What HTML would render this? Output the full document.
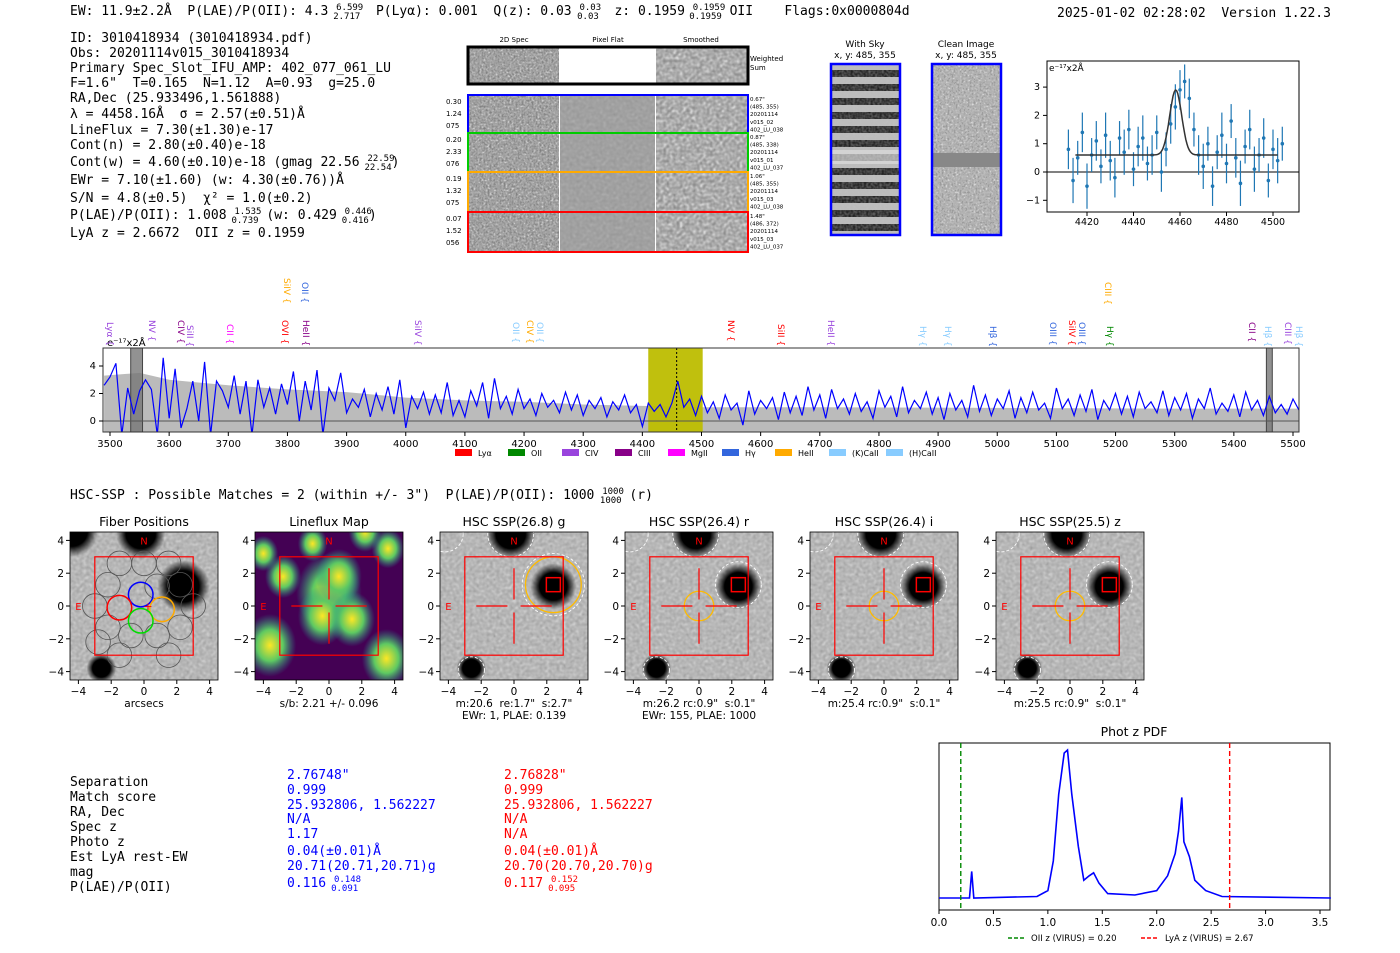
<!DOCTYPE html>
<html><head><meta charset="utf-8"><style>
body{margin:0;background:#fff}
svg{display:block}
text{white-space:pre}
.m{font-family:"DejaVu Sans Mono","Liberation Mono",monospace;font-size:13px}
.s{font-family:"DejaVu Sans","Liberation Sans",sans-serif}
</style></head><body>
<svg id="root" width="1400" height="953" viewBox="0 0 1400 953" xmlns="http://www.w3.org/2000/svg" xml:space="preserve">
<defs>
<filter id="noise" x="0" y="0" width="100%" height="100%"><feTurbulence type="fractalNoise" baseFrequency="0.45" numOctaves="1" seed="3"/><feColorMatrix type="matrix" values="0 0 0 0 0.55  0 0 0 0 0.55  0 0 0 0 0.55  1.4 0 0 0 -0.35"/></filter>
<filter id="noise2" x="0" y="0" width="100%" height="100%"><feTurbulence type="fractalNoise" baseFrequency="0.5" numOctaves="1" seed="7"/><feColorMatrix type="saturate" values="0"/><feComponentTransfer><feFuncR type="discrete" tableValues="0.05 0.35 0.6 0.85 1"/><feFuncG type="discrete" tableValues="0.05 0.35 0.6 0.85 1"/><feFuncB type="discrete" tableValues="0.05 0.35 0.6 0.85 1"/></feComponentTransfer></filter>
<filter id="noise3" x="0" y="0" width="100%" height="100%"><feTurbulence type="fractalNoise" baseFrequency="0.3" numOctaves="1" seed="11"/><feColorMatrix type="saturate" values="0"/><feComponentTransfer><feFuncR type="linear" slope="1.8" intercept="-0.2"/><feFuncG type="linear" slope="1.8" intercept="-0.2"/><feFuncB type="linear" slope="1.8" intercept="-0.2"/></feComponentTransfer></filter>
<radialGradient id="blob"><stop offset="0" stop-color="#000"/><stop offset="0.6" stop-color="#000"/><stop offset="1" stop-color="#000" stop-opacity="0"/></radialGradient>
<radialGradient id="yel"><stop offset="0" stop-color="#fde725"/><stop offset="0.5" stop-color="#5ec962"/><stop offset="1" stop-color="#21918c" stop-opacity="0"/></radialGradient>
<pattern id="stripes" width="10" height="14" patternUnits="userSpaceOnUse"><rect width="10" height="7" fill="#222"/><rect y="7" width="10" height="7" fill="#bbb"/></pattern>
</defs>

<g class="m" fill="#000">
<text x="70" y="15">EW: 11.9±2.2Å  P(LAE)/P(OII): 4.3 <tspan font-size="9" dy="-5">6.599</tspan><tspan font-size="9" dx="-30" dy="9">2.717</tspan><tspan dy="-4">  P(Lyα): 0.001  Q(z): 0.03 </tspan><tspan font-size="9" dy="-5">0.03</tspan><tspan font-size="9" dx="-24" dy="9">0.03</tspan><tspan dy="-4">  z: 0.1959 </tspan><tspan font-size="9" dy="-5">0.1959</tspan><tspan font-size="9" dx="-36" dy="9">0.1959</tspan><tspan dy="-4"> OII    Flags:0x0000804d</tspan></text>
<text x="1057" y="17">2025-01-02 02:28:02  Version 1.22.3</text>
</g>

<g class="m">
<text x="70" y="42">ID: 3010418934 (3010418934.pdf)</text>
<text x="70" y="57">Obs: 20201114v015_3010418934</text>
<text x="70" y="72">Primary Spec_Slot_IFU_AMP: 402_077_061_LU</text>
<text x="70" y="87">F=1.6"  T=0.165  N=1.12  A=0.93  g=25.0</text>
<text x="70" y="102">RA,Dec (25.933496,1.561888)</text>
<text x="70" y="118">λ = 4458.16Å  σ = 2.57(±0.51)Å</text>
<text x="70" y="134">LineFlux = 7.30(±1.30)e-17</text>
<text x="70" y="149">Cont(n) = 2.80(±0.40)e-18</text>
<text x="70" y="166">Cont(w) = 4.60(±0.10)e-18 (gmag 22.56 <tspan font-size="9" dy="-5">22.59</tspan><tspan font-size="9" dx="-30" dy="9">22.54</tspan><tspan dy="-4">)</tspan></text>
<text x="70" y="184">EWr = 7.10(±1.60) (w: 4.30(±0.76))Å</text>
<text x="70" y="202">S/N = 4.8(±0.5)  χ² = 1.0(±0.2)</text>
<text x="70" y="219">P(LAE)/P(OII): 1.008 <tspan font-size="9" dy="-5">1.535</tspan><tspan font-size="9" dx="-30" dy="9">0.739</tspan><tspan dy="-4"> (w: 0.429 </tspan><tspan font-size="9" dy="-5">0.446</tspan><tspan font-size="9" dx="-30" dy="9">0.416</tspan><tspan dy="-4">)</tspan></text>
<text x="70" y="237">LyA z = 2.6672  OII z = 0.1959</text>
</g>

<g id="spec2d" class="s" font-size="7">
<text x="514" y="42" text-anchor="middle">2D Spec</text>
<text x="608" y="42" text-anchor="middle">Pixel Flat</text>
<text x="701" y="42" text-anchor="middle">Smoothed</text>
<text x="750" y="61">Weighted</text><text x="750" y="70">Sum</text>
</g>

<g>
<text class="s" font-size="9" x="865" y="47" text-anchor="middle">With Sky</text>
<text class="s" font-size="9" x="865" y="58" text-anchor="middle">x, y: 485, 355</text>
<rect x="831" y="64" width="69" height="171" fill="url(#stripes)"/>
<rect x="831" y="64" width="69" height="171" fill="#888" filter="url(#noise)" opacity="0.5"/>
<rect x="832" y="150" width="67" height="14" fill="#ddd" opacity="0.7"/>
<rect x="831" y="64" width="69" height="171" fill="none" stroke="#00f" stroke-width="2.5"/>
<text class="s" font-size="9" x="966" y="47" text-anchor="middle">Clean Image</text>
<text class="s" font-size="9" x="966" y="58" text-anchor="middle">x, y: 485, 355</text>
<rect x="932" y="64" width="69" height="171" fill="#999"/>
<rect x="932" y="64" width="69" height="171" filter="url(#noise2)"/>
<rect x="933" y="153" width="67" height="14" fill="#888"/>
<rect x="932" y="64" width="69" height="171" fill="none" stroke="#00f" stroke-width="2.5"/>
</g>

<g id="zoomplot"></g>
<g id="spectrum"></g>

<text class="m" x="70" y="499">HSC-SSP : Possible Matches = 2 (within +/- 3")  P(LAE)/P(OII): 1000 <tspan font-size="9" dy="-5">1000</tspan><tspan font-size="9" dx="-24" dy="9">1000</tspan><tspan dy="-4"> (r)</tspan></text>

<g id="cutouts"></g>

<g class="m">
<g>
<text x="70" y="786">Separation</text><text x="70" y="801">Match score</text><text x="70" y="816">RA, Dec</text><text x="70" y="831">Spec z</text><text x="70" y="846">Photo z</text><text x="70" y="861">Est LyA rest-EW</text><text x="70" y="876">mag</text><text x="70" y="891">P(LAE)/P(OII)</text>
</g>
<g fill="#00f">
<text x="287" y="779">2.76748"</text><text x="287" y="794">0.999</text><text x="287" y="809">25.932806, 1.562227</text><text x="287" y="823">N/A</text><text x="287" y="838">1.17</text><text x="287" y="855">0.04(±0.01)Å</text><text x="287" y="870">20.71(20.71,20.71)g</text><text x="287" y="887">0.116 <tspan font-size="9" dy="-5">0.148</tspan><tspan font-size="9" dx="-30" dy="9">0.091</tspan></text>
</g>
<g fill="#f00">
<text x="504" y="779">2.76828"</text><text x="504" y="794">0.999</text><text x="504" y="809">25.932806, 1.562227</text><text x="504" y="823">N/A</text><text x="504" y="838">N/A</text><text x="504" y="855">0.04(±0.01)Å</text><text x="504" y="870">20.70(20.70,20.70)g</text><text x="504" y="887">0.117 <tspan font-size="9" dy="-5">0.152</tspan><tspan font-size="9" dx="-30" dy="9">0.095</tspan></text>
</g>
</g>

<g id="pdf"></g>
</svg>
<script>
// ---------- data ----------
const specStart = 3490, specStep = 10;
const specFlux = [2.6,3.2,4.2,-1,2.4,0.5,2.2,3,2.3,-1,4.6,0.2,3.8,-0.5,0.9,2.9,0,4.3,-1,2.9,
2.2,1,3.3,0.5,2.9,-1,3,1,2.4,0.5,2.7,1.2,3.6,0,2.9,0.8,3.7,-1,2.4,1.5,
3.5,0.6,1.6,1,2.3,0.3,2,0.8,2.5,0.5,3,-0.5,1.8,0.9,2.1,0.5,1.9,0.6,2.8,0.4,
1.5,0.3,2.2,1.1,2.8,0.2,3.1,0.9,1.8,0.5,2.3,0.9,1.6,0.4,2.0,1,1.5,0.6,2.1,0.8,
1.9,0.4,1.5,0.9,1.7,0.3,1.4,0.8,1.9,0.6,1.2,-0.4,1.3,0.7,1.2,0.3,1.3,2.9,1.0,1.6,
0.4,1.8,0.6,1.4,0.2,1.9,0.8,1.3,-0.3,2.2,0.5,1.5,0.9,1.7,0.1,2.1,0.6,1.8,0.4,2.5,
0.8,1.9,0.2,2.3,0.9,1.6,0.5,2.0,0.7,1.4,0.2,2.2,1.0,1.8,0.3,2.5,0.6,1.5,0.9,2.1,
0.5,1.7,0.1,2.0,0.8,1.5,0.3,2.6,0.7,1.9,0.4,1.6,0.9,2.2,0.2,1.7,0.6,2.1,0.8,1.3,
0.2,2.4,0.9,1.6,0.4,1.9,0.7,2.3,0.1,1.5,0.8,2.0,0.5,1.8,0.3,2.1,0.9,1.4,0.6,2.2,
0.4,1.7,0.8,2.0,0.2,1.6,0.9,2.4,0.5,1.3,0.7,1.9,0.3,2.1,0.8,1.5,0.4,1.8,0.6,1.2,
0.5,1.6,0.8];
const errWave = [3490,3550,3600,3700,3800,3900,4000,4100,4200,4300,4400,4500,4700,5000,5300,5510];
const errVal  = [3.3,3.5,3.0,2.6,2.3,2.1,1.7,1.5,1.4,1.2,1.1,1.0,1.0,0.95,0.9,0.9];
const specTicks = [3500,3600,3700,3800,3900,4000,4100,4200,4300,4400,4500,4600,4700,4800,4900,5000,5100,5200,5300,5400,5500];
const specYTicks = [0,2,4];
const fitWave0 = 4412, fitStep = 2;
const fitFlux = [0.8,-0.3,0.5,1.4,-0.5,0.6,1.1,0.2,1.3,0.4,-0.2,1.2,0.7,1.5,0.1,0.9,1.2,0.3,0.6,1.4,0.0,0.8,1.7,2.3,2.9,3.2,2.6,1.5,0.6,0.2,1.0,-0.5,0.7,1.3,0.3,1.8,0.5,-0.4,0.9,1.5,0.1,0.6,1.2,-0.3,0.8,0.4,1.0];
const fitErr = [0.7,0.8,0.6,0.7,0.8,0.6,0.7,0.6,0.8,0.7,0.7,0.6,0.8,0.7,0.6,0.7,0.8,0.6,0.7,0.6,0.7,0.6,0.7,0.8,0.7,0.6,0.7,0.6,0.7,0.8,0.6,0.7,0.6,0.8,0.7,0.6,0.7,0.8,0.6,0.7,0.8,0.6,0.7,0.6,0.7,0.8,0.6];
const fitModel = {cont:0.6, amp:2.3, mu:4458.16, sigma:2.57};
const fitXTicks = [4420,4440,4460,4480,4500];
const fitYTicks = [-1,0,1,2,3];
const pdfZ = [0,0.28,0.3,0.32,0.9,1.0,1.05,1.1,1.15,1.18,1.22,1.28,1.33,1.38,1.42,1.47,1.55,1.8,2.0,2.1,2.17,2.2,2.23,2.25,2.3,2.35,2.45,2.6,3.6];
const pdfP = [0,0,0.18,0,0.01,0.05,0.25,0.7,0.98,1.0,0.7,0.35,0.12,0.15,0.17,0.1,0.03,0.02,0.05,0.15,0.3,0.45,0.68,0.38,0.28,0.12,0.05,0.01,0];
const pdfTicks = [0.0,0.5,1.0,1.5,2.0,2.5,3.0,3.5];
const oiiZ = 0.20, lyaZ = 2.67;

const NS = "http://www.w3.org/2000/svg";
function el(parent, tag, attrs, txt){const e=document.createElementNS(NS,tag);for(const k in attrs)e.setAttribute(k,attrs[k]);if(txt!==undefined)e.textContent=txt;parent.appendChild(e);return e;}
const FONT = '"DejaVu Sans","Liberation Sans",sans-serif';

// ---------- 2D spectra ----------
(function(){
  const g=document.getElementById('spec2d');
  const rows=[[47,37,'#000',null],[95,38,'#00f',['0.30','1.24','075'],['0.67"','(485, 355)','20201114','v015_02','402_LU_038']],
    [133,39,'#0c0',['0.20','2.33','076'],['0.87"','(485, 338)','20201114','v015_01','402_LU_037']],
    [172,40,'#fa0',['0.19','1.32','075'],['1.06"','(485, 355)','20201114','v015_03','402_LU_038']],
    [212,40,'#f00',['0.07','1.52','056'],['1.48"','(486, 372)','20201114','v015_03','402_LU_037']]];
  rows.forEach((r,i)=>{
    const y=r[0],h=r[1];
    const a=el(g,'rect',{x:469,y:y,width:90,height:h,fill:'#777'});
    
    el(g,'rect',{x:469,y:y,width:90,height:h,filter:'url(#noise2)'});
    el(g,'rect',{x:560,y:y,width:95,height:h,fill:i==0?'#fff':'#999'});
    if(i>0) el(g,'rect',{x:560,y:y,width:95,height:h,filter:'url(#noise3)',opacity:0.25});
    el(g,'rect',{x:656,y:y,width:92,height:h,fill:'#888'});
    el(g,'rect',{x:656,y:y,width:92,height:h,filter:'url(#noise3)',opacity:0.9});
    const b=el(g,'rect',{x:468,y:y,width:280,height:h,fill:'none',stroke:r[2],'stroke-width':i==0?3:2});
    
    if(r[3]) r[3].forEach((t,j)=>el(g,'text',{x:446,y:y+9+j*12},t));
    if(r[4]) r[4].forEach((t,j)=>el(g,'text',{x:750,y:y+6+j*7.6,'font-size':5.5},t));
  });
})();

// ---------- line-fit plot ----------
(function(){
  const g=document.getElementById('zoomplot');
  const L=1047,R=1299,T=61,B=212;
  const xs=w=>1087+(w-4420)*(1273-1087)/80, ys=v=>172-v*28.3;
  el(g,'rect',{x:L,y:T,width:R-L,height:B-T,fill:'#fff',stroke:'#000','stroke-width':1});
  el(g,'clipPath',{id:'fitclip'});el(g.lastChild,'rect',{x:L,y:T,width:R-L,height:B-T});
  const cg=el(g,'g',{'clip-path':'url(#fitclip)'});
  el(cg,'line',{x1:L,x2:R,y1:ys(0),y2:ys(0),stroke:'#000','stroke-width':1});
  fitFlux.forEach((v,i)=>{const w=fitWave0+i*fitStep,x=xs(w);
    const l=el(cg,'line',{x1:x,x2:x,y1:ys(v-fitErr[i]),y2:ys(v+fitErr[i]),stroke:'#1f77b4','stroke-width':1.2});
    
    const c=el(cg,'circle',{cx:x,cy:ys(v),r:1.8,fill:'#1f77b4'});
    });
  let d='';for(let w=4415;w<=4502;w+=0.5){const v=fitModel.cont+fitModel.amp*Math.exp(-0.5*Math.pow((w-fitModel.mu)/fitModel.sigma,2));d+=(d?'L':'M')+xs(w).toFixed(1)+','+ys(v).toFixed(1);}
  const m=el(cg,'path',{d:d,fill:'none',stroke:'#333','stroke-width':1.5});
  
  fitXTicks.forEach(t=>{el(g,'line',{x1:xs(t),x2:xs(t),y1:B,y2:B+4,stroke:'#000'});el(g,'text',{x:xs(t),y:B+13,'font-size':9.5,'text-anchor':'middle','font-family':FONT},t);});
  fitYTicks.forEach(t=>{el(g,'line',{x1:L-4,x2:L,y1:ys(t),y2:ys(t),stroke:'#000'});el(g,'text',{x:L-7,y:ys(t)+3,'font-size':9.5,'text-anchor':'end','font-family':FONT},t==-1?'−1':t);});
  el(g,'text',{x:L+2,y:T+10,'font-size':9,'font-family':FONT},'e⁻¹⁷x2Å');
})();

// ---------- full spectrum ----------
(function(){
  const g=document.getElementById('spectrum');
  const L=103,R=1299,T=348,B=432;
  const xs=w=>110+(w-3500)*(1293-110)/2000, ys=v=>421-v*13.75;
  el(g,'rect',{x:L,y:T,width:R-L,height:B-T,fill:'#fff'});
  el(g,'clipPath',{id:'specclip'});
  el(document.getElementById('specclip'),'rect',{x:L,y:T,width:R-L,height:B-T});
  const cg=el(g,'g',{'clip-path':'url(#specclip)'});
  let d='M'+xs(errWave[0])+','+B;errWave.forEach((w,i)=>d+='L'+xs(w).toFixed(1)+','+ys(errVal[i]).toFixed(1));d+='L'+xs(errWave[errWave.length-1])+','+B+'Z';
  const e=el(cg,'path',{d:d,fill:'#bbb'});
  const yb=el(cg,'rect',{x:xs(4410),y:T,width:xs(4502)-xs(4410),height:B-T,fill:'#bdbd00','fill-opacity':0.95});
  
  [[3535,3555],[5455,5465]].forEach(r=>el(cg,'rect',{x:xs(r[0]),y:T,width:xs(r[1])-xs(r[0]),height:B-T,fill:'#777','fill-opacity':0.8,stroke:'#444'}));
  el(cg,'line',{x1:L,x2:R,y1:ys(0),y2:ys(0),stroke:'#555','stroke-width':1});
  let p='';specFlux.forEach((v,i)=>p+=(i?'L':'M')+xs(specStart+i*specStep).toFixed(1)+','+ys(v).toFixed(1));
  const l=el(cg,'path',{d:p,fill:'none',stroke:'#00f','stroke-width':1.2});
  
  el(cg,'line',{x1:xs(4458),x2:xs(4458),y1:T,y2:B,stroke:'#000','stroke-dasharray':'2,2','stroke-width':1});
  el(g,'rect',{x:L,y:T,width:R-L,height:B-T,fill:'none',stroke:'#333'});
  specTicks.forEach(t=>{el(g,'line',{x1:xs(t),x2:xs(t),y1:B,y2:B+4,stroke:'#000'});el(g,'text',{x:xs(t),y:B+15,'font-size':10,'text-anchor':'middle','font-family':FONT},t);});
  specYTicks.forEach(t=>{el(g,'line',{x1:L-4,x2:L,y1:ys(t),y2:ys(t),stroke:'#000'});el(g,'text',{x:L-7,y:ys(t)+3,'font-size':10,'text-anchor':'end','font-family':FONT},t);});
  el(g,'text',{x:107,y:346,'font-size':10,'font-family':FONT},'e⁻¹⁷x2Å');
  const labels=[[110,322,'Lyα','#94d'],[152,320,'NV','#94d'],[181,320,'CIV','#808'],[190,325,'SiII','#94d'],[230,324,'CII','#f0f'],[285,320,'OVI','#f00'],[306,320,'HeII','#808'],[287,278,'SiIV','#fa0'],[305,282,'OII','#36d'],[418,320,'SiIV','#94d'],[516,322,'OII','#8cf'],[530,320,'CIV','#fa0'],[540,322,'OII','#8cf'],[731,320,'NV','#f00'],[781,324,'SiII','#f00'],[831,320,'HeII','#94d'],[923,326,'Hγ','#8cf'],[948,326,'Hγ','#8cf'],[993,326,'Hβ','#36d'],[1053,322,'OIII','#36d'],[1072,320,'SiIV','#f00'],[1082,322,'OIII','#36d'],[1108,282,'CIII','#fa0'],[1110,326,'Hγ','#080'],[1252,322,'CII','#808'],[1268,326,'Hβ','#8cf'],[1288,322,'CIII','#94d'],[1299,326,'Hβ','#8cf']];
  labels.forEach(a=>{const t=el(g,'text',{x:a[0]-3,y:a[1],fill:a[3],'font-size':9,'font-family':FONT,transform:`rotate(90 ${a[0]-3} ${a[1]})`},a[2]+' {');
    });
  const leg=[['Lyα','#f00',455],['OII','#080',508],['CIV','#94d',562],['CIII','#808',615],['MgII','#f0f',668],['Hγ','#36d',722],['HeII','#fa0',775],['(K)CaII','#8cf',829],['(H)CaII','#8cf',886]];
  leg.forEach(a=>{const s=el(g,'rect',{x:a[2],y:449,width:17,height:7,fill:a[1]});
    const t=el(g,'text',{x:a[2]+23,y:456,'font-size':8,'font-family':FONT},a[0]);});
})();

// ---------- cutouts ----------
(function(){
  const g=document.getElementById('cutouts');
  const cx=[144,329,514,699,884,1070];
  const titles=['Fiber Positions','Lineflux Map','HSC SSP(26.8) g','HSC SSP(26.4) r','HSC SSP(26.4) i','HSC SSP(25.5) z'];
  const sub=[['arcsecs'],['s/b: 2.21 +/- 0.096'],['m:20.6  re:1.7"  s:2.7"','EWr: 1, PLAE: 0.139'],['m:26.2 rc:0.9"  s:0.1"','EWr: 155, PLAE: 1000'],['m:25.4 rc:0.9"  s:0.1"'],['m:25.5 rc:0.9"  s:0.1"']];
  const k=16.4, cy=606;
  cx.forEach((c,i)=>{
    const sx=v=>c+v*k, sy=v=>cy-v*k, L=c-74, T=cy-74;
    const p=el(g,'g',{});
    el(p,'text',{x:c,y:526,'font-size':12.5,'text-anchor':'middle','font-family':FONT},titles[i]);
    el(p,'clipPath',{id:'cc'+i});el(p.lastChild,'rect',{x:L,y:T,width:148,height:148});
    const ig=el(p,'g',{'clip-path':`url(#cc${i})`});
    if(i==1){
      el(ig,'rect',{x:L,y:T,width:148,height:148,fill:'#440154'});
      [[0,0.8,2.0],[-0.4,-0.6,1.5],[0.6,1.8,1.4],[-3.6,-2.4,1.6],[1.4,-0.8,1.4],[-2.8,1.8,1.1],[3.5,-3.2,1.5],[-1,3.8,0.9],[3.6,3.5,1.0],[2.2,4.5,1.0],[-4,3.2,0.9]].forEach(b=>el(ig,'ellipse',{cx:sx(b[0]),cy:sy(b[1]),rx:b[2]*k,ry:b[2]*k*1.2,fill:'url(#yel)'}));
    } else {
      el(ig,'rect',{x:L,y:T,width:148,height:148,fill:'#aaa'});
      el(ig,'rect',{x:L,y:T,width:148,height:148,filter:'url(#noise3)',opacity:0.55});
      const blobs=[[-0.2,4.4,1.5],[2.4,1.2,i==0?1.6:1.4],[-2.6,-3.8,0.9]];
      if(i==0) blobs.push([-4.4,4.6,1.6]);
      blobs.forEach(b=>el(ig,'circle',{cx:sx(b[0]),cy:sy(b[1]),r:b[2]*k,fill:'url(#blob)'}));
      if(i>=2){[[-4.2,4.4,1.1],[-0.2,4.4,1.4],[2.4,1.3,i==2?1.9:1.4],[-2.6,-3.9,0.8]].forEach(b=>el(ig,'circle',{cx:sx(b[0]),cy:sy(b[1]),r:b[2]*k,fill:'none',stroke:'#fff','stroke-dasharray':'3,2','stroke-width':0.9}));
        el(ig,'circle',{cx:sx(i==2?2.4:0),cy:sy(i==2?1.3:0),r:(i==2?1.7:0.9)*k,fill:'none',stroke:'#fb0','stroke-width':1.3});
        el(ig,'rect',{x:sx(2.4)-7,y:sy(1.3)-7,width:14,height:14,fill:'none',stroke:'#f00','stroke-width':1.5});}
    }
    if(i==0){
      [[-1.5,2.6],[0,2.6],[1.5,2.6],[-2.2,1.3],[2.2,1.3],[-3,0],[3,0],[-2.2,-1.3],[-0.8,-1.8],[0.8,-1.8],[2.2,-1.3],[-1.5,-3],[1.5,-3],[-2.8,-2.2],[0.8,1.2]].forEach(f=>el(ig,'circle',{cx:sx(f[0]),cy:sy(f[1]),r:0.75*k,fill:'none',stroke:'#555','stroke-width':0.8}));
      [[-0.2,0.7,'#00f'],[-1.5,-0.1,'#f00'],[1.1,-0.2,'#fa0'],[-0.2,-0.9,'#0d0']].forEach(f=>{const c2=el(ig,'circle',{cx:sx(f[0]),cy:sy(f[1]),r:0.75*k,fill:'none',stroke:f[2],'stroke-width':1.5});});
      el(ig,'text',{x:c+4,y:cy+4,fill:'#f00','font-size':11,'text-anchor':'middle','font-family':FONT},'+');
    } else {
      el(ig,'path',{d:`M${sx(0)},${sy(2.3)}V${sy(0.4)}M${sx(0)},${sy(-0.4)}V${sy(-2.3)}M${sx(-2.3)},${cy}H${sx(-0.4)}M${sx(0.4)},${cy}H${sx(2.3)}`,stroke:'#f00','stroke-width':1.2});
    }
    el(ig,'rect',{x:sx(-3),y:sy(3),width:6*k,height:6*k,fill:'none',stroke:'#f00','stroke-width':1.2});
    el(ig,'text',{x:c,y:sy(4)+4,fill:'#f00','font-size':10,'text-anchor':'middle','font-family':FONT},'N');
    el(ig,'text',{x:sx(-4),y:cy+4,fill:'#f00','font-size':10,'text-anchor':'middle','font-family':FONT},'E');
    el(p,'rect',{x:L,y:T,width:148,height:148,fill:'none',stroke:'#000','stroke-width':0.8});
    [-4,-2,0,2,4].forEach(t=>{
      el(p,'line',{x1:sx(t),x2:sx(t),y1:T+148,y2:T+152,stroke:'#000'});
      el(p,'text',{x:sx(t),y:T+163,'font-size':10.5,'text-anchor':'middle','font-family':FONT},t<0?'−'+(-t):t);
      el(p,'line',{x1:L-4,x2:L,y1:sy(t),y2:sy(t),stroke:'#000'});
      el(p,'text',{x:L-6,y:sy(t)+4,'font-size':10.5,'text-anchor':'end','font-family':FONT},t<0?'−'+(-t):t);
    });
    sub[i].forEach((s,j)=>el(p,'text',{x:c,y:707+j*12,'font-size':10.5,'text-anchor':'middle','font-family':FONT},s));
  });
})();

// ---------- photo-z PDF ----------
(function(){
  const g=document.getElementById('pdf');
  const L=939,R=1330,T=743,B=910;
  const xs=z=>939+z*108.86, ys=p=>898-p*148;
  el(g,'text',{x:1134,y:736,'font-size':12.5,'text-anchor':'middle','font-family':FONT},'Phot z PDF');
  el(g,'rect',{x:L,y:T,width:R-L,height:B-T,fill:'#fff',stroke:'#000'});
  let d='';pdfZ.forEach((z,i)=>d+=(i?'L':'M')+xs(z).toFixed(1)+','+ys(pdfP[i]).toFixed(1));
  const l=el(g,'path',{d:d,fill:'none',stroke:'#00f','stroke-width':1.6});
  
  const o=el(g,'line',{x1:xs(oiiZ),x2:xs(oiiZ),y1:T,y2:B,stroke:'#080','stroke-dasharray':'5,3','stroke-width':1.4});
  
  const r=el(g,'line',{x1:xs(lyaZ),x2:xs(lyaZ),y1:T,y2:B,stroke:'#f00','stroke-dasharray':'5,3','stroke-width':1.4});
  
  pdfTicks.forEach(t=>{el(g,'line',{x1:xs(t),x2:xs(t),y1:B,y2:B+4,stroke:'#000'});el(g,'text',{x:xs(t),y:B+16,'font-size':10.5,'text-anchor':'middle','font-family':FONT},t.toFixed(1));});
  el(g,'line',{x1:1008,x2:1026,y1:938,y2:938,stroke:'#080','stroke-dasharray':'4,2','stroke-width':1.4});
  el(g,'text',{x:1031,y:941,'font-size':8.5,'font-family':FONT},'OII z (VIRUS) = 0.20');
  el(g,'line',{x1:1141,x2:1159,y1:938,y2:938,stroke:'#f00','stroke-dasharray':'4,2','stroke-width':1.4});
  el(g,'text',{x:1165,y:941,'font-size':8.5,'font-family':FONT},'LyA z (VIRUS) = 2.67');
})();
</script>
</body></html>
